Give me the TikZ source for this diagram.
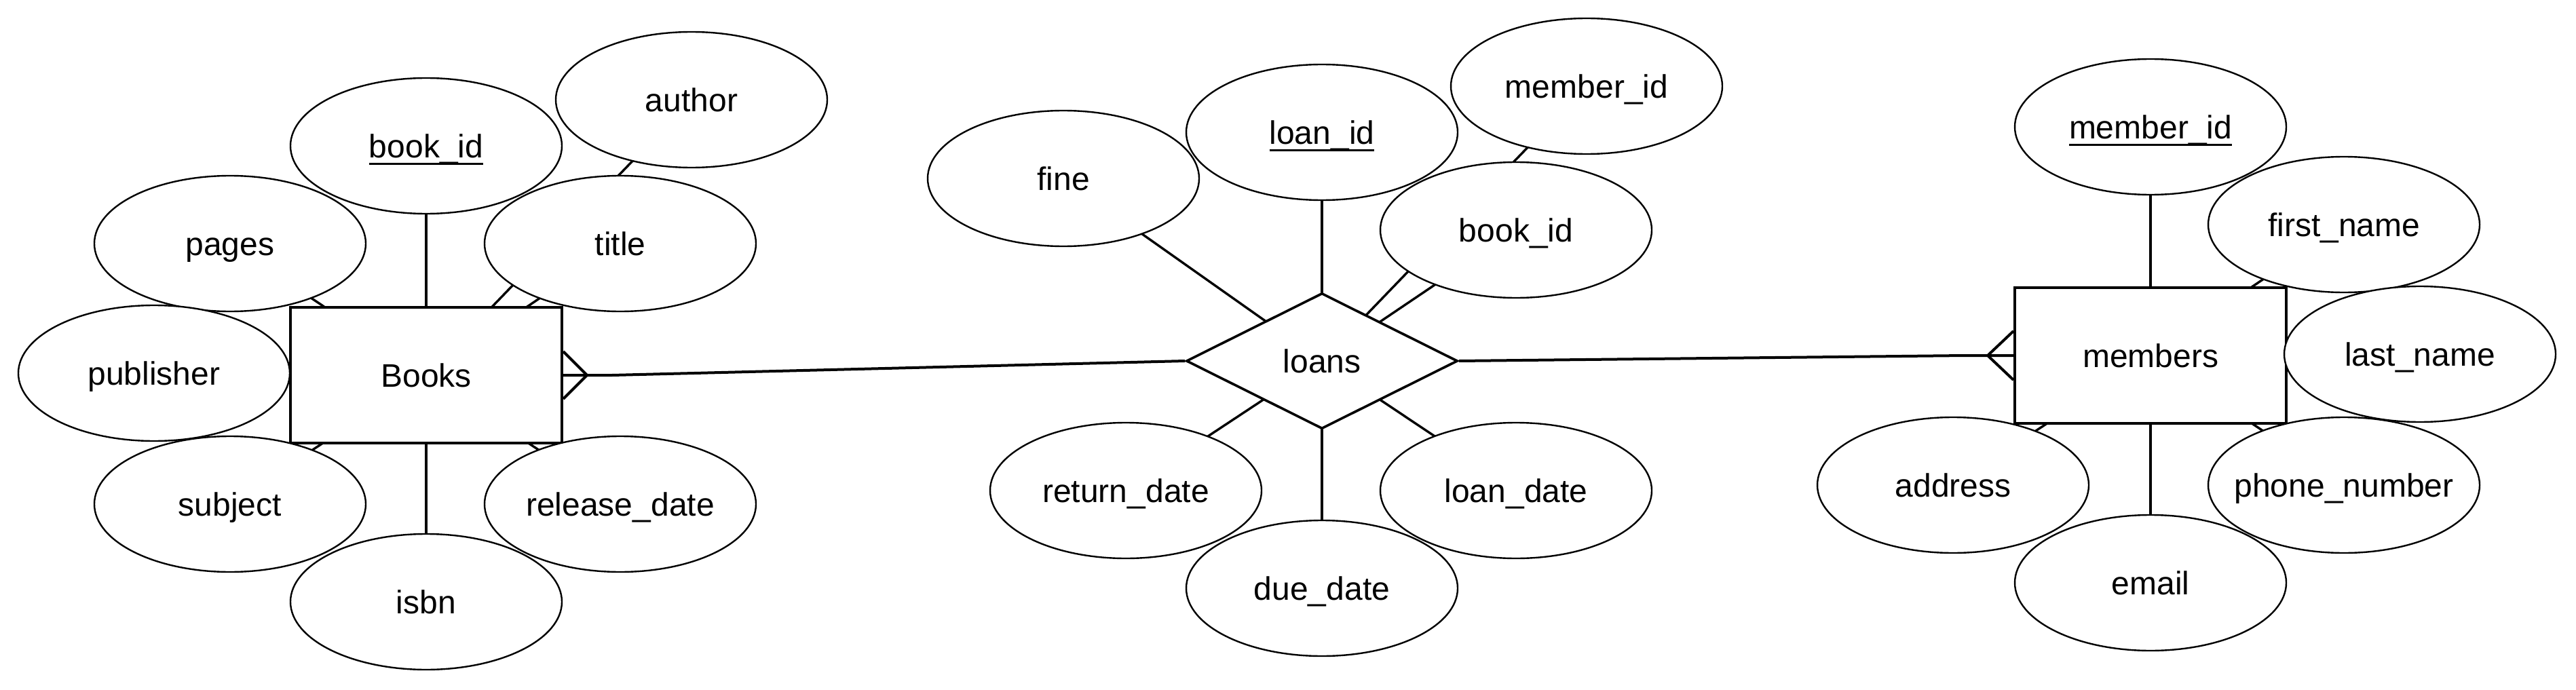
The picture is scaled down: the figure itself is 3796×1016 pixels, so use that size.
\documentclass[tikz,border=0pt]{standalone}
\usepackage{fontspec}
\setmainfont{Liberation Sans}
\usetikzlibrary{shapes.geometric}
\pgfdeclarelayer{bg}
\pgfsetlayers{bg,main}
\newcommand\pkey[1]{\setbox0\hbox{#1}\rlap{\rule[-2.75pt]{\wd0}{0.75pt}}\box0}
\newcommand\nowidth[1]{\makebox[0pt]{#1}}
\tikzset{
  lbl/.style={font=\fontsize{12}{14}\selectfont, text height=8.6pt, text depth=0pt, inner sep=0pt},
  attr/.style={lbl, ellipse, draw, fill=white, line width=0.6pt, minimum width=100pt, minimum height=50pt},
  entity/.style={lbl, rectangle, draw, fill=white, line width=1pt, minimum width=100pt, minimum height=50pt},
  rel/.style={lbl, diamond, draw, fill=white, line width=0.9pt, minimum width=100pt, minimum height=50pt},
  link/.style={line width=0.85pt},
  crow/.style={line width=1pt},
}
\begin{document}
\begin{tikzpicture}[x=0.25pt,y=-0.25pt]
\useasboundingbox (0,0) rectangle (3796,1016);
% Books
\node[entity] (books) at (628,553) {Books};
\node[attr] (bookid) at (628,215) {\pkey{book\_id}};
\node[attr] (author) at (1019,147) {author};
\node[attr] (pages) at (339,359) {pages};
\node[attr] (title) at (914,359) {title};
\node[attr] (publisher) at (227,550) {publisher};
\node[attr] (subject) at (339,743) {subject};
\node[attr] (release) at (914,743) {release\_date};
\node[attr] (isbn) at (628,887) {isbn};
% loans
\node[rel] (loans) at (1948,532) {loans};
\node[attr] (fine) at (1567,263) {fine};
\node[attr] (loanid) at (1948,195) {\pkey{loan\_id}};
\node[attr] (lmember) at (2338,127) {member\_id};
\node[attr] (lbook) at (2234,339) {book\_id};
\node[attr] (returnd) at (1659,723) {return\_date};
\node[attr] (dued) at (1948,867) {due\_date};
\node[attr] (loand) at (2234,723) {loan\_date};
% members
\node[entity] (members) at (3169,524) {members};
\node[attr] (memberid) at (3169,187) {\pkey{member\_id}};
\node[attr] (first) at (3454,331) {first\_name};
\node[attr] (last) at (3566,522) {last\_name};
\node[attr] (address) at (2878,715) {address};
\node[attr] (email) at (3169,859) {email};
\node[attr] (phone) at (3454,715) {\nowidth{phone\_number}};

\begin{pgfonlayer}{bg}
  \foreach \a in {bookid,author,pages,title,publisher,subject,release,isbn}
    \draw[link] (\a.center) -- (books.center);
  \foreach \a in {fine,loanid,lmember,lbook,returnd,dued,loand}
    \draw[link] (\a.center) -- (loans.center);
  \foreach \a in {memberid,first,last,address,email,phone}
    \draw[link] (\a.center) -- (members.center);
\end{pgfonlayer}

% relationship lines with crow's feet
\path (books.east) ++(72,0) coordinate (bj);
\path (members.west) ++(-72,0) coordinate (mj);
\draw[crow] (books.east) -- (bj) -- (loans.west);
\draw[crow] (books.east) ++(0,-35) -- ++(35,35) -- ++(-35,35);
\draw[crow] (loans.east) -- (mj) -- (members.west);
\draw[crow] (members.west) ++(0,-36) -- ++(-38,36) -- ++(38,36);
\end{tikzpicture}
\end{document}
